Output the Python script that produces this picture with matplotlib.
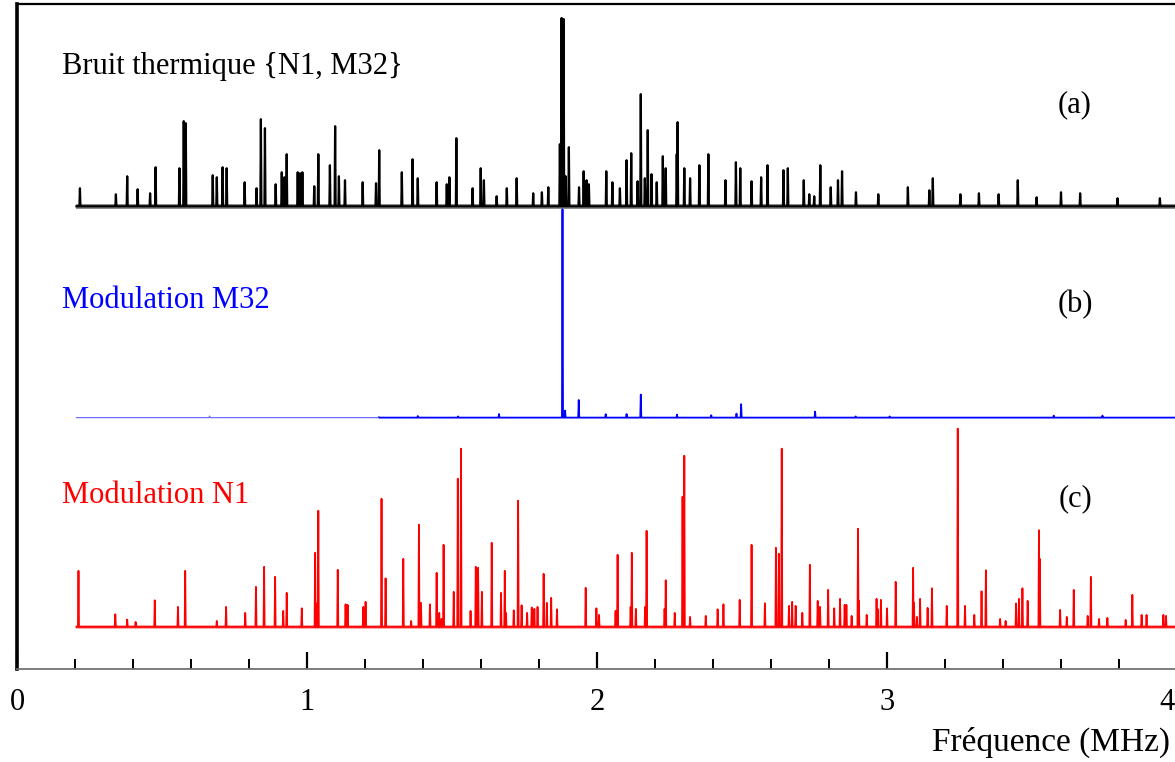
import numpy as np
import matplotlib
matplotlib.use("Agg")
import matplotlib.pyplot as plt
import matplotlib.transforms as mtransforms
from matplotlib.ticker import MultipleLocator

# ---------------- data (MHz, relative amplitude) ----------------
# (a) thermal noise spectrum {N1, M32}
freq_a = [0.217, 0.341, 0.380, 0.416, 0.459, 0.478, 0.560, 0.575, 0.582, 0.675,
          0.689, 0.709, 0.723, 0.785, 0.826, 0.841, 0.855, 0.892, 0.913, 0.922,
          0.930, 0.968, 0.976, 0.984, 1.025, 1.039, 1.079, 1.097, 1.110, 1.131,
          1.192, 1.238, 1.249, 1.327, 1.364, 1.382, 1.447, 1.482, 1.491, 1.515,
          1.571, 1.599, 1.610, 1.654, 1.689, 1.723, 1.780, 1.810, 1.832, 1.872,
          1.878, 1.885, 1.892, 1.903, 1.938, 1.954, 1.964, 1.972, 2.032, 2.053,
          2.079, 2.102, 2.118, 2.140, 2.151, 2.165, 2.175, 2.188, 2.206, 2.227,
          2.237, 2.275, 2.278, 2.301, 2.321, 2.353, 2.384, 2.443, 2.479, 2.494,
          2.533, 2.566, 2.588, 2.643, 2.658, 2.713, 2.732, 2.749, 2.770, 2.806,
          2.831, 2.845, 2.893, 2.970, 3.072, 3.146, 3.158, 3.253, 3.317, 3.385,
          3.451, 3.516, 3.600, 3.666, 3.795, 3.941]
amp_a = [0.09, 0.06, 0.15, 0.085, 0.065, 0.195, 0.19, 0.425, 0.415, 0.155,
         0.145, 0.195, 0.19, 0.12, 0.09, 0.435, 0.39, 0.11, 0.17, 0.145,
         0.26, 0.17, 0.165, 0.17, 0.10, 0.26, 0.205, 0.40, 0.15, 0.13,
         0.12, 0.115, 0.28, 0.17, 0.235, 0.14, 0.12, 0.11, 0.145, 0.34,
         0.09, 0.19, 0.13, 0.05, 0.09, 0.14, 0.065, 0.07, 0.095, 0.31,
         0.94, 0.935, 0.15, 0.295, 0.095, 0.175, 0.13, 0.11, 0.175, 0.12,
         0.09, 0.23, 0.265, 0.125, 0.56, 0.14, 0.38, 0.16, 0.12, 0.25,
         0.19, 0.26, 0.42, 0.19, 0.14, 0.205, 0.26, 0.13, 0.22, 0.19,
         0.125, 0.145, 0.205, 0.18, 0.19, 0.13, 0.06, 0.05, 0.205, 0.095,
         0.13, 0.175, 0.07, 0.06, 0.095, 0.08, 0.14, 0.06, 0.065, 0.06,
         0.13, 0.045, 0.07, 0.065, 0.04, 0.04]

# (b) modulation M32
freq_b = [0.664, 1.247, 1.382, 1.521, 1.662, 1.881, 1.890, 1.937, 2.030, 2.102,
          2.151, 2.276, 2.394, 2.481, 2.497, 2.752, 2.892, 3.009, 3.575, 3.743]
amp_b = [0.008, 0.006, 0.008, 0.006, 0.018, 1.04, 0.035, 0.088, 0.017, 0.018,
         0.115, 0.015, 0.012, 0.02, 0.067, 0.03, 0.006, 0.006, 0.01, 0.01]

# (c) modulation N1
freq_c = [0.212, 0.339, 0.380, 0.409, 0.475, 0.555, 0.580, 0.689, 0.721, 0.787,
          0.824, 0.852, 0.890, 0.918, 0.930, 0.982, 1.028, 1.036, 1.039, 1.106,
          1.133, 1.140, 1.194, 1.202, 1.257, 1.271, 1.332, 1.359, 1.386, 1.393,
          1.424, 1.447, 1.456, 1.464, 1.471, 1.506, 1.520, 1.531, 1.564, 1.582,
          1.590, 1.603, 1.637, 1.669, 1.682, 1.686, 1.713, 1.728, 1.740, 1.759,
          1.775, 1.784, 1.795, 1.816, 1.827, 1.842, 1.862, 1.961, 1.998, 2.007,
          2.064, 2.071, 2.116, 2.120, 2.134, 2.166, 2.171, 2.233, 2.237, 2.268,
          2.295, 2.301, 2.321, 2.375, 2.416, 2.436, 2.492, 2.533, 2.579, 2.617,
          2.627, 2.637, 2.662, 2.673, 2.685, 2.708, 2.734, 2.761, 2.769, 2.797,
          2.818, 2.838, 2.854, 2.860, 2.878, 2.900, 2.903, 2.930, 2.964, 2.968,
          2.979, 3.000, 3.030, 3.090, 3.093, 3.103, 3.114, 3.140, 3.155, 3.206,
          3.244, 3.269, 3.301, 3.326, 3.341, 3.390, 3.409, 3.445, 3.455, 3.467,
          3.485, 3.524, 3.527, 3.597, 3.620, 3.644, 3.692, 3.703, 3.731, 3.760,
          3.823, 3.846, 3.878, 3.895, 3.953, 3.962]
amp_c = [0.28, 0.063, 0.037, 0.025, 0.133, 0.10, 0.28, 0.03, 0.10, 0.07,
         0.20, 0.30, 0.25, 0.08, 0.17, 0.093, 0.37, 0.12, 0.58, 0.285,
         0.113, 0.11, 0.10, 0.125, 0.64, 0.243, 0.34, 0.03, 0.51, 0.12,
         0.113, 0.27, 0.07, 0.04, 0.41, 0.175, 0.74, 0.89, 0.08, 0.30,
         0.295, 0.175, 0.42, 0.17, 0.28, 0.07, 0.083, 0.63, 0.108, 0.07,
         0.097, 0.09, 0.10, 0.265, 0.12, 0.145, 0.088, 0.195, 0.093, 0.06,
         0.08, 0.36, 0.10, 0.37, 0.09, 0.10, 0.48, 0.09, 0.233, 0.07,
         0.65, 0.855, 0.05, 0.055, 0.088, 0.113, 0.135, 0.41, 0.118, 0.395,
         0.365, 0.89, 0.105, 0.125, 0.105, 0.07, 0.31, 0.13, 0.10, 0.185,
         0.093, 0.14, 0.11, 0.11, 0.055, 0.49, 0.13, 0.06, 0.14, 0.09,
         0.135, 0.093, 0.225, 0.295, 0.12, 0.05, 0.14, 0.095, 0.193, 0.105,
         0.99, 0.105, 0.06, 0.178, 0.283, 0.04, 0.03, 0.117, 0.14, 0.193,
         0.13, 0.483, 0.34, 0.085, 0.05, 0.185, 0.055, 0.25, 0.04, 0.045,
         0.035, 0.16, 0.06, 0.06, 0.06, 0.055]

offsets = {"a": 2.31, "b": 1.255, "c": 0.21}
f_start = 0.205
f_end = 4.10
b_dense_start = 1.25

labels = ["Bruit thermique {N1, M32}", "Modulation M32", "Modulation N1"]
panel_tags = ["(a)", "(b)", "(c)"]
xlabel = "Fréquence (MHz)"
tick_values = [0, 1, 2, 3, 4]


def spike_line(freqs, amps, start, end, half_width=0.0018):
    xs = [start]
    ys = [0.0]
    for f, a in sorted(zip(freqs, amps)):
        if f < start or f > end:
            continue
        xs += [f - half_width, f, f + half_width]
        ys += [0.0, a, 0.0]
    xs.append(end)
    ys.append(0.0)
    return np.array(xs), np.array(ys)


# ---------------- figure ----------------
W, H = 1175, 762
fig = plt.figure(figsize=(W / 100, H / 100), dpi=100)
plt.rcParams["font.family"] = ["Liberation Serif", "DejaVu Serif"]

x_px0, x_scale = 17, 290.0
bottom_px, top_px = 669, 4
xmax = 4.10
ax = fig.add_axes([x_px0 / W, (H - bottom_px) / H,
                   xmax * x_scale / W, (bottom_px - top_px) / H])
ax.set_xlim(0, xmax)
ax.set_ylim(0, 3.32)

# (a) black
xa, ya = spike_line(freq_a, amp_a, f_start, f_end)
oa = offsets["a"]
ax.fill_between([f_start, f_end], oa - 0.014, oa + 0.014, color="0.55", lw=0, zorder=1)
ax.plot(xa, ya + oa, color="black", lw=1.6, zorder=3)

# (b) blue: faint thin part then denser part
ob = offsets["b"]
xb0, yb0 = spike_line(freq_b, amp_b, f_start, b_dense_start)
ax.plot(xb0, yb0 + ob, color="#7070ff", lw=0.9, zorder=2)
xb, yb = spike_line(freq_b, amp_b, b_dense_start, f_end)
ax.plot(xb, yb + ob, color="#0000ff", lw=1.3, zorder=3)

# (c) red
oc = offsets["c"]
ax.fill_between([f_start, f_end], oc - 0.008, oc + 0.008, color="#ffaaaa", lw=0, zorder=1)
xc, yc = spike_line(freq_c, amp_c, f_start, f_end)
ax.plot(xc, yc + oc, color="#ff0000", lw=1.3, zorder=3)

# axes styling
ax.spines["right"].set_visible(False)
ax.spines["top"].set_linewidth(1.6)
ax.spines["left"].set_linewidth(2.6)
ax.spines["bottom"].set_linewidth(1.3)
ax.spines["bottom"].set_color("0.45")
ax.set_yticks([])
ax.xaxis.set_major_locator(MultipleLocator(1))
ax.xaxis.set_minor_locator(MultipleLocator(0.2))
ax.set_xticks(tick_values)
ax.set_xticklabels([str(t) for t in tick_values])
ax.tick_params(axis="x", which="major", direction="in", length=12, width=1.6,
               pad=14, labelsize=22, colors="black")
ax.tick_params(axis="x", which="minor", direction="in", length=7, width=1.4)

# last tick label sits against the right edge of the picture, as in the original
last_lbl = ax.get_xticklabels()[-1]
last_lbl.set_transform(last_lbl.get_transform() +
                       mtransforms.ScaledTranslation(-10 / 100, 0, fig.dpi_scale_trans))


def fig_text(x_px, y_px, s, **kw):
    fig.text(x_px / W, 1 - y_px / H, s, **kw)


fs = 22
fig_text(62, 74, labels[0], color="black", fontsize=fs, va="baseline", ha="left")
fig_text(62, 308, labels[1], color="#0000ff", fontsize=fs, va="baseline", ha="left")
fig_text(62, 503, labels[2], color="#ff0000", fontsize=fs, va="baseline", ha="left")
fig_text(1075, 112, panel_tags[0], color="black", fontsize=fs, va="baseline", ha="center")
fig_text(1075, 312, panel_tags[1], color="black", fontsize=fs, va="baseline", ha="center")
fig_text(1075, 506, panel_tags[2], color="black", fontsize=fs, va="baseline", ha="center")
fig_text(1170, 751, xlabel, color="black", fontsize=24, va="baseline", ha="right")

fig.savefig("out.png", dpi=100)
